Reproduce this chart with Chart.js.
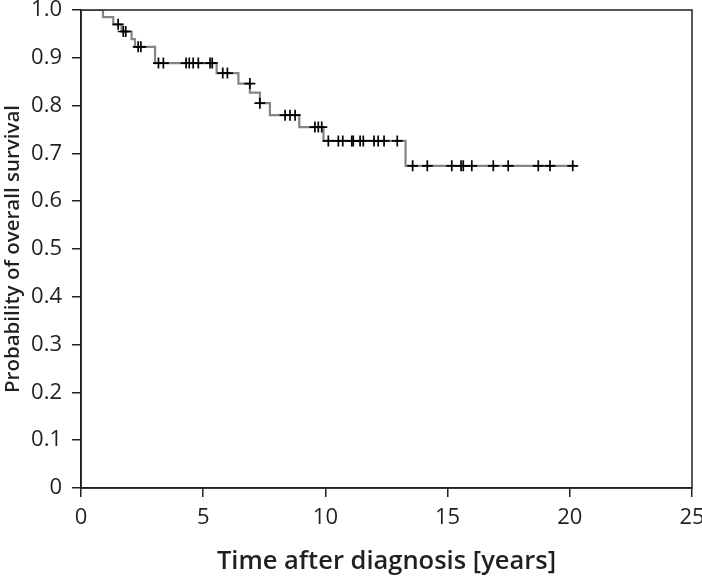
<!DOCTYPE html>
<html>
<head>
<meta charset="utf-8">
<script src="https://cdn.jsdelivr.net/npm/chart.js@4.4.1/dist/chart.umd.min.js"></script>
<style>
    body { margin: 0; background: #fff; }
    #wrap { width: 702px; height: 579px; }
</style>
</head>
<body>
<div id="wrap"><canvas id="km-chart" width="702" height="579"></canvas></div>
<script>
// Kaplan-Meier: times of deaths and survival after each step
const eventTimes = [0, 0.9, 1.32, 1.66, 2.07, 2.21, 3.03, 5.55, 6.44, 6.91, 7.32, 7.73, 8.93, 9.92, 13.28, 20.2];
const survival   = [1.0, 0.985, 0.970, 0.955, 0.939, 0.923, 0.889, 0.868, 0.846, 0.827, 0.805, 0.780, 0.755, 0.726, 0.674, 0.674];

// censored patients (the + marks)
const censorTimes = [1.52, 1.73, 1.83, 2.34, 2.45, 3.17, 3.37, 4.30, 4.43, 4.59, 4.80, 5.28, 5.37,
    5.80, 5.99, 6.91, 7.32, 8.35, 8.55, 8.76, 9.57, 9.71, 9.85,
    10.12, 10.53, 10.71, 11.08, 11.14, 11.42, 11.55, 11.99, 12.16, 12.40, 12.94,
    13.57, 14.17, 15.17, 15.55, 15.64, 15.99, 16.87, 17.48, 18.71, 19.19, 20.12];
const censorSurv = [0.970, 0.955, 0.955, 0.923, 0.923, 0.889, 0.889, 0.889, 0.889, 0.889, 0.889, 0.889, 0.889,
    0.868, 0.868, 0.846, 0.805, 0.780, 0.780, 0.780, 0.755, 0.755, 0.755,
    0.726, 0.726, 0.726, 0.726, 0.726, 0.726, 0.726, 0.726, 0.726, 0.726, 0.726,
    0.674, 0.674, 0.674, 0.674, 0.674, 0.674, 0.674, 0.674, 0.674, 0.674, 0.674];

const xTicks = [0, 5, 10, 15, 20, 25];
const yTicks = [0, 0.1, 0.2, 0.3, 0.4, 0.5, 0.6, 0.7, 0.8, 0.9, 1.0];

const fontFamily = '"Open Sans", sans-serif';
const textColor = '#231f20';

// frame round the plot area (top and right sides)
const frame = {
    id: 'frame',
    afterDraw(chart) {
        const { ctx, chartArea } = chart;
        ctx.save();
        ctx.strokeStyle = '#231f20';
        ctx.lineWidth = 1.5;
        ctx.strokeRect(chartArea.left, chartArea.top, chartArea.right - chartArea.left, chartArea.bottom - chartArea.top);
        ctx.restore();
    }
};

const ctx = document.getElementById('km-chart').getContext('2d');
new Chart(ctx, {
    type: 'line',
    data: {
        datasets: [{
            data: eventTimes.map((t, i) => ({ x: t, y: survival[i] })),
            borderColor: '#858585',
            borderWidth: 2.2,
            stepped: 'before',
            pointRadius: 0,
            fill: false,
            order: 2
        }, {
            data: censorTimes.map((t, i) => ({ x: t, y: censorSurv[i] })),
            showLine: false,
            pointStyle: 'cross',
            pointRadius: 5.5,
            pointBorderColor: '#000',
            pointBorderWidth: 1.7,
            order: 1
        }]
    },
    options: {
        responsive: false,
        animation: false,
        layout: { padding: { top: 10, right: 10, left: 0, bottom: 0 } },
        plugins: {
            legend: { display: false },
            tooltip: { enabled: false }
        },
        scales: {
            x: {
                type: 'linear',
                min: 0,
                max: 25,
                afterBuildTicks: scale => { scale.ticks = xTicks.map(v => ({ value: v })); },
                afterFit: scale => {
                    scale.height = 91;
                    scale.paddingLeft = 0;
                    scale.paddingRight = 0;
                },
                grid: { drawOnChartArea: false, tickLength: 9, color: '#231f20', lineWidth: 1.5 },
                border: { color: '#231f20', width: 1.5 },
                ticks: { color: textColor, padding: 8, font: { family: fontFamily, size: 22 }, maxRotation: 0 },
                title: {
                    display: true,
                    text: 'Time after diagnosis [years]',
                    color: textColor,
                    padding: { top: 0, bottom: 2 },
                    font: { family: fontFamily, size: 25.5, weight: '600' }
                }
            },
            y: {
                min: 0,
                max: 1,
                afterBuildTicks: scale => { scale.ticks = yTicks.map(v => ({ value: v })); },
                afterFit: scale => {
                    scale.width = 81;
                    scale.paddingTop = 0;
                    scale.paddingBottom = 0;
                },
                grid: { drawOnChartArea: false, tickLength: 9, color: '#231f20', lineWidth: 1.5 },
                border: { color: '#231f20', width: 1.5 },
                ticks: {
                    color: textColor,
                    padding: 10,
                    font: { family: fontFamily, size: 22 },
                    callback: v => v === 0 ? '0' : v.toFixed(1)
                },
                title: {
                    display: true,
                    text: 'Probability of overall survival',
                    color: textColor,
                    padding: { top: 1, bottom: 0 },
                    font: { family: fontFamily, size: 20.5, weight: '600' }
                }
            }
        }
    },
    plugins: [frame]
});
</script>
</body>
</html>
